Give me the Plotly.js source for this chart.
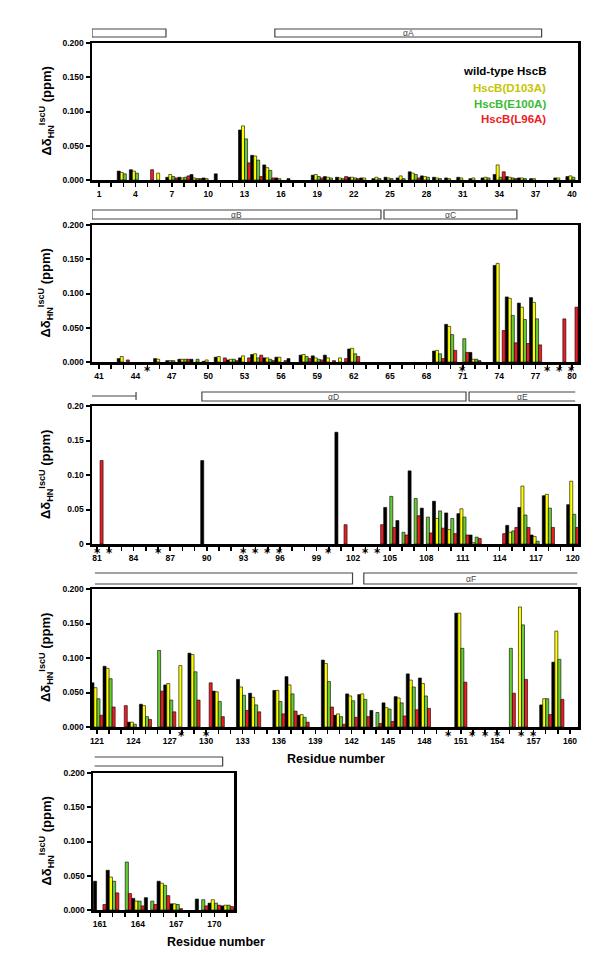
<!DOCTYPE html>
<html>
<head>
<meta charset="utf-8">
<script src="https://cdn.plot.ly/plotly-3.0.1.min.js"></script>
<style>
  body { margin: 0; background: #fff; }
  #chart { width: 600px; height: 955px; }
</style>
</head>
<body>
<div id="chart"></div>
<script>
const _ = null;

// chemical shift change per residue (ppm), index 0 = residue 1, null = no bar
const wildType = [
  _, _, .013, .015, _, _, .004, .004, .008, .003,
  .009, _, .073, .036, .022, .003, .002, _, .007, .005,
  .004, .004, .003, .002, .004, .003, .012, .006, .004, .003,
  .004, .002, .003, .008, .005, .003, .002, _, .003, .005,
  _, _, .005, _, _, .005, .002, .004, .004, .001,
  .007, .003, .006, .011, .006, .007, .005, .010, .009, .010,
  _, .019, _, _, _, _, _, _, .016, .055,
  _, .014, _, .141, .095, .086, .094, _, _, _,
  _, _, _, _, _, _, _, _, _, .121,
  _, _, _, _, _, _, _, _, _, _,
  .162, _, _, _, .053, .034, .106, .052, .062, .045,
  .044, .013, _, _, .027, .053, .013, .070, _, .057,
  .064, .088, _, .007, .033, _, .061, _, .107, _,
  .052, _, .069, .049, _, .053, .073, .017, _, .097,
  .017, .048, .047, .024, .035, .044, .077, .071, _, _,
  .165, _, _, _, _, _, _, .032, .094, _,
  .042, .058, _, .017, .018, .042, .009, _, .016, .010, .006
];
const d103a = [
  _, _, .011, .013, _, .010, .008, .003, .003, .002,
  _, _, .079, .035, .018, .002, _, _, .008, .004,
  .003, .004, .003, .004, .003, .006, .010, .005, .003, .002,
  .003, .003, .004, .022, .004, .003, .002, _, .003, .006,
  _, _, .008, _, _, .004, .002, .004, _, .003,
  .008, .004, .009, .012, .006, .007, _, .011, .006, .006,
  .006, .020, _, _, _, _, _, _, .017, .052,
  _, .004, _, .144, .093, .080, .087, _, _, _,
  _, _, _, _, _, _, _, _, _, _,
  _, _, _, _, _, _, _, _, _, _,
  _, _, _, _, _, _, _, _, .037, .021,
  .051, .002, _, _, .017, .084, .011, .072, _, .091,
  .057, .085, _, .007, .031, _, .063, .089, .105, _,
  .051, _, .058, .043, _, .053, .061, .018, _, .092,
  .019, .045, .048, _, .028, .042, .068, .063, _, _,
  .165, _, _, _, _, .174, _, .041, .139, _,
  _, .048, _, .013, _, .039, .009, _, _, .015, .007
];
const e100a = [
  _, _, .009, .010, _, _, .005, .004, .002, _,
  _, _, .060, .029, .014, _, _, _, .005, .003,
  .002, .003, _, .002, .002, .002, .008, .004, .002, _,
  _, _, .003, .004, .003, .002, _, _, _, .004,
  _, _, _, _, _, _, .002, .004, .004, _,
  _, .004, _, .006, .004, _, _, .008, .004, _,
  _, .012, _, _, _, _, _, _, .012, .040,
  .034, .004, _, _, .068, .062, .063, _, _, _,
  _, _, _, _, _, _, _, _, _, _,
  _, _, _, _, _, _, _, _, _, _,
  _, _, _, _, .069, .017, .066, .039, .048, .037,
  .039, .010, _, _, .019, .042, .004, .052, _, .043,
  .041, .070, _, .004, .015, .111, .039, _, .080, _,
  .037, _, .046, .032, _, .037, .048, .014, _, .066,
  .015, .038, .040, .021, .026, .035, .058, .045, _, _,
  .114, _, _, _, .114, .148, _, .041, .098, _,
  _, .042, .070, .013, .013, .036, .008, _, .015, .010, .007
];
const l96a = [
  _, _, _, _, .015, _, .003, .006, .002, _,
  _, _, .025, .005, .003, _, _, _, .003, _,
  .005, .002, _, _, _, _, .003, _, _, _,
  _, _, _, .012, .002, _, _, _, _, _,
  _, _, .003, _, _, _, _, .004, _, _,
  .006, .002, .006, .010, .002, .002, _, .005, .003, .002,
  .005, .008, _, _, _, _, _, _, .005, .017,
  .014, .002, _, .046, .028, .027, .025, _, .063, .080,
  .121, _, _, _, _, _, _, _, _, _,
  _, _, _, _, _, _, _, _, _, _,
  .028, _, _, .028, .024, .013, .041, .016, .023, .015,
  .013, .008, _, .015, .024, .024, _, .024, _, .024,
  .017, .029, .031, _, .011, .052, .022, _, .039, .064,
  .015, _, .024, .022, _, .019, .023, .007, _, .029,
  .004, .014, .015, .005, .008, .016, .025, .027, _, _,
  .065, _, _, _, .049, .069, _, .018, .040, _,
  .008, .025, .024, .006, .008, .021, .002, _, .006, .007, .005
];

const seriesNames = ['wild-type HscB', 'HscB(D103A)', 'HscB(E100A)', 'HscB(L96A)'];
const seriesValues = [wildType, d103a, e100a, l96a];
const barColors = ['#000000', '#ffff00', '#66cc33', '#ee1c24'];
const textColors = ['#000000', '#c8c400', '#3cb935', '#ee1c24'];

// residues marked with an asterisk under the axis
const starred = [[], [45, 71, 78, 79, 80], [81, 82, 86, 93, 94, 95, 96, 100, 103, 104],
  [128, 130, 150, 152, 153, 154, 156, 157], []];

const residues = [];
for (let r = 1; r <= wildType.length; r++) residues.push(r);

const W = 600, H = 955;
const px = x => x / W;
const py = y => 1 - y / H;
const FONT = 'Liberation Sans, Arial, sans-serif';

const panels = [
  {first: 1, last: 40, range: [0.42, 40.5], top: 43, bottom: 180, left: 92, right: 578},
  {first: 41, last: 80, range: [40.42, 80.5], top: 225, bottom: 362, left: 92, right: 578},
  {first: 81, last: 120, range: [80.59, 120.43], top: 406, bottom: 544, left: 92, right: 578, short: true},
  {first: 121, last: 160, range: [120.59, 160.66], top: 589, bottom: 727, left: 92, right: 578},
  {first: 161, last: 171, range: [160.47, 171.54], top: 773, bottom: 910, left: 93, right: 234}
];

const data = [];
const layout = {
  width: W, height: H,
  margin: {l: 0, r: 0, t: 0, b: 0},
  paper_bgcolor: '#fff', plot_bgcolor: '#fff',
  barmode: 'group', bargap: 0, bargroupgap: 0,
  showlegend: false,
  font: {family: FONT, color: '#000'},
  shapes: [], annotations: []
};

panels.forEach((p, k) => {
  const ax = k === 0 ? '' : String(k + 1);
  const xs = residues.filter(r => r >= p.first && r <= p.last);
  seriesValues.forEach((vals, s) => {
    data.push({
      type: 'bar', name: seriesNames[s],
      x: xs, y: xs.map(r => vals[r - 1]),
      xaxis: 'x' + ax, yaxis: 'y' + ax,
      marker: {color: barColors[s], line: {color: '#000', width: 0.6}},
      hoverinfo: 'skip'
    });
  });
  layout['xaxis' + ax] = {
    domain: [px(p.left), px(p.right)], range: p.range, anchor: 'y' + ax,
    tickmode: 'linear', tick0: p.first, dtick: 3,
    ticks: 'outside', ticklen: 4, tickwidth: 1.5, tickcolor: '#000',
    minor: {tickmode: 'linear', tick0: p.first, dtick: 1, ticks: 'outside', ticklen: 4, tickwidth: 1.5, tickcolor: '#000', showgrid: false},
    tickfont: {family: FONT, size: 8.5, weight: 'bold'},
    showline: true, linewidth: 2.5, linecolor: '#000', mirror: true,
    showgrid: false, zeroline: false, fixedrange: true
  };
  const yv = [0, 0.05, 0.1, 0.15, 0.2];
  layout['yaxis' + ax] = {
    domain: [py(p.bottom), py(p.top)], range: [0, 0.2], anchor: 'x' + ax,
    tickmode: 'array', tickvals: yv,
    ticktext: p.short ? ['0', '0.05', '0.10', '0.15', '0.20'] : yv.map(v => v.toFixed(3)),
    ticks: 'outside', ticklen: 4, tickwidth: 2, tickcolor: '#000',
    tickfont: {family: FONT, size: 8.5, weight: 'bold'},
    showline: true, linewidth: 2.5, linecolor: '#000', mirror: true,
    showgrid: false, zeroline: false, fixedrange: true
  };
  layout.annotations.push({
    xref: 'paper', yref: 'paper', x: px(46), y: py((p.top + p.bottom) / 2), xanchor: 'center', yanchor: 'middle',
    text: '\u0394\u03b4<sub>HN</sub><sup>IscU</sup> (ppm)', textangle: -90, showarrow: false,
    font: {family: FONT, size: 13, weight: 'bold'}
  });
  starred[k].forEach(r => layout.annotations.push({
    xref: 'x' + ax, yref: 'paper', x: r, y: py(p.bottom), yanchor: 'top',
    text: '*', showarrow: false, font: {family: 'DejaVu Sans', size: 12, weight: 'bold', color: '#000'}
  }));
});

// secondary structure boxes above the panels
const boxLine = {color: '#444', width: 1.2};
const boxFont = {family: FONT, size: 8.5, color: '#444'};
function helixBox(xr, x0, x1, y0, y1, label) {
  layout.shapes.push({type: 'rect', xref: xr, yref: 'paper', x0: x0, x1: x1,
    y0: py(y1), y1: py(y0), line: boxLine, fillcolor: 'rgba(0,0,0,0)'});
  if (label) layout.annotations.push({xref: xr, yref: 'paper', x: (x0 + x1) / 2, y: py((y0 + y1) / 2),
    yanchor: 'middle', text: label, showarrow: false, font: boxFont});
}
function openBox(xr, xOpen, xClosed, y0, y1, label) {
  layout.shapes.push({type: 'path', xref: xr, yref: 'paper', line: boxLine,
    path: `M ${xOpen},${py(y0)} L ${xClosed},${py(y0)} L ${xClosed},${py(y1)} L ${xOpen},${py(y1)}`});
  if (label) layout.annotations.push({xref: xr, yref: 'paper', x: (xOpen + xClosed) / 2, y: py((y0 + y1) / 2),
    yanchor: 'middle', text: label, showarrow: false, font: boxFont});
}
helixBox('x', 0.42, 6.52, 29, 37, '');
helixBox('x', 15.5, 37.5, 29, 37, '\u03b1A');
helixBox('x2', 40.42, 64.25, 210, 219, '\u03b1B');
helixBox('x2', 64.5, 75.46, 210, 219, '\u03b1C');
layout.shapes.push({type: 'line', xref: 'x3', yref: 'paper', x0: 80.59, x1: 84.2, y0: py(396), y1: py(396), line: boxLine});
layout.shapes.push({type: 'line', xref: 'x3', yref: 'paper', x0: 84.2, x1: 84.2, y0: py(392), y1: py(400), line: boxLine});
helixBox('x3', 89.6, 111.25, 392, 401, '\u03b1D');
openBox('x3', 120.2, 111.5, 392, 401, '\u03b1E');
openBox('x4', 120.83, 142.07, 573, 584, '');
openBox('x4', 160.6, 143.0, 573, 584, '\u03b1F');
openBox('x5', 160.6, 170.65, 757, 766, '');

// legend written as coloured text
seriesNames.forEach((name, s) => layout.annotations.push({
  xref: 'paper', yref: 'paper', x: px(548), y: py([63, 80, 96, 111][s]), xanchor: 'right',
  text: name, showarrow: false, font: {family: FONT, size: 11.5, weight: 'bold', color: textColors[s]}
}));

[[336, 759], [165, 942]].forEach(([x, y]) => layout.annotations.push({
  xref: 'paper', yref: 'paper', x: px(x), y: py(y), yanchor: 'middle', text: 'Residue number', showarrow: false,
  font: {family: FONT, size: 12.5, weight: 'bold'}
}));

Plotly.newPlot('chart', data, layout, {staticPlot: true, displayModeBar: false});
</script>
</body>
</html>
